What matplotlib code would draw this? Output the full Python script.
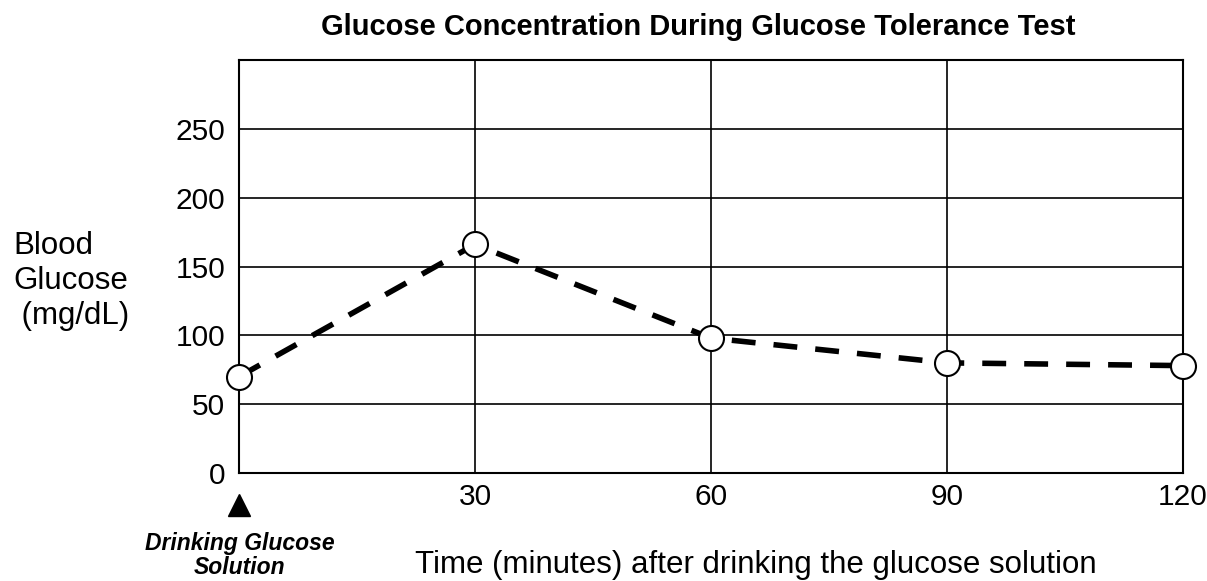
import matplotlib
matplotlib.use("Agg")
import matplotlib.pyplot as plt

# ---- data ----
times = [0, 30, 60, 90, 120]
glucose = [70, 166, 98, 80, 78]
x_ticks = [30, 60, 90, 120]
x_tick_labels = ["30", "60", "90", "120"]
y_ticks = [0, 50, 100, 150, 200, 250]
y_tick_labels = ["0", "50", "100", "150", "200", "250"]

title = "Glucose Concentration During Glucose Tolerance Test"
y_label = "Blood\nGlucose\n (mg/dL)"
x_label = "Time (minutes) after drinking the glucose solution"
note_lines = ["Drinking Glucose", "Solution"]

plt.rcParams['font.family'] = ['Liberation Sans', 'DejaVu Sans']

W, H = 1207, 581
fig = plt.figure(figsize=(W / 100, H / 100), dpi=100)
ax = fig.add_axes([239 / W, 1 - 473 / H, (1183 - 239) / W, (473 - 60) / H])

ax.set_xlim(0, 120)
ax.set_ylim(0, 300)

ax.plot(times, glucose, color='black', linewidth=4.0, dashes=(4.3, 3.25),
        marker='o', markersize=18, markerfacecolor='white',
        markeredgecolor='black', markeredgewidth=1.5, clip_on=False, zorder=5)

ax.set_xticks(x_ticks)
ax.set_xticklabels(x_tick_labels)
ax.set_yticks(y_ticks)
ax.set_yticklabels(y_tick_labels)
ax.tick_params(axis='both', length=0, labelsize=21.5, colors='black')
ax.tick_params(axis='y', pad=10)
ax.tick_params(axis='x', pad=7)

ax.grid(True, color='black', linewidth=1.2)
for s in ax.spines.values():
    s.set_linewidth(1.5)
    s.set_color('black')

# triangle marker below x=0
ax.plot([0], [-32 / 413], marker='^', markersize=16, color='black',
        transform=ax.get_xaxis_transform(), clip_on=False)

fig.text(698 / W, 1 - 35 / H, title, ha='center', va='baseline',
         fontsize=21, fontweight='bold')
fig.text(13 / W, 1 - 281 / H, y_label, ha='left', va='center',
         fontsize=22.5, multialignment='left', linespacing=1.22)
fig.text(415 / W, 1 - 573 / H, x_label, ha='left', va='baseline', fontsize=22.5)
fig.text(240 / W, 1 - 550 / H, note_lines[0], ha='center', va='baseline',
         fontsize=16.5, fontweight='bold', fontstyle='italic')
fig.text(240 / W, 1 - 574 / H, note_lines[1], ha='center', va='baseline',
         fontsize=16.5, fontweight='bold', fontstyle='italic')

fig.savefig("out.png", dpi=100)
